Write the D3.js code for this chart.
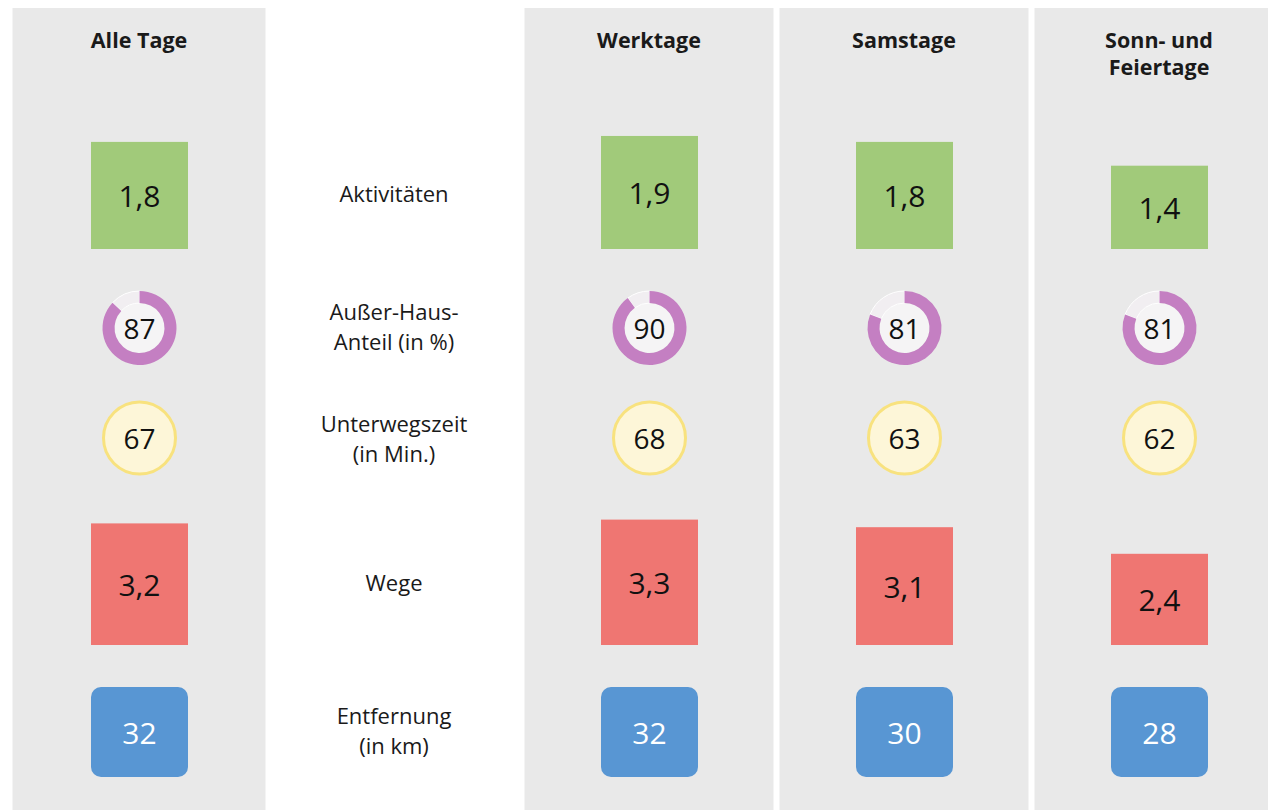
<!DOCTYPE html>
<html>
<head>
<meta charset="utf-8">
<script src="https://cdn.jsdelivr.net/npm/d3@7"></script>
<style>
  body { margin: 0; background: #fff; }
  svg { display: block; font-family: "Open Sans", "Noto Sans", sans-serif; }
</style>
</head>
<body>
<svg id="chart" width="1268" height="810"></svg>
<script>
// columns: the empty slot in the middle holds the row labels
var columns = ['Alle Tage', 'labels', 'Werktage', 'Samstage', 'Sonn- und Feiertage'];
var headers = [['Alle Tage'], null, ['Werktage'], ['Samstage'], ['Sonn- und', 'Feiertage']];
var rowLabels = [
  ['Aktivitäten'],
  ['Außer-Haus-', 'Anteil (in %)'],
  ['Unterwegszeit', '(in Min.)'],
  ['Wege'],
  ['Entfernung', '(in km)']
];
var aktivitaeten = [1.8, null, 1.9, 1.8, 1.4];
var ausserHaus = [87, null, 90, 81, 81];
var unterwegszeit = [67, null, 68, 63, 62];
var wege = [3.2, null, 3.3, 3.1, 2.4];
var entfernung = [32, null, 32, 30, 28];

var svg = d3.select('#chart');
var fmt = function(v) { return String(v).replace('.', ','); };

var x = d3.scalePoint().domain(columns).range([139, 1159]);
var panelW = 249;

var greenH = d3.scaleLinear().domain([0, 1]).range([0, 59.5]);
var redH = d3.scaleLinear().domain([0, 1]).range([0, 38]);
var boxW = 97;

var dataCols = columns.filter(function(c) { return c !== 'labels'; });
var idx = function(c) { return columns.indexOf(c); };

// grey panels
svg.selectAll('rect.panel')
  .data(dataCols)
  .enter().append('rect')
  .attr('class', 'panel')
  .attr('x', function(d) { return x(d) - panelW / 2 - (d === 'Alle Tage' ? 2 : 0); })
  .attr('y', 8)
  .attr('width', function(d) { return d === 'Sonn- und Feiertage' ? panelW + 20 : panelW + (d === 'Alle Tage' ? 4 : 0); })
  .attr('height', 810)
  .attr('fill', '#e9e9e9');

// headers
dataCols.forEach(function(c) {
  var lines = headers[idx(c)];
  var t = svg.append('text')
    .attr('x', x(c))
    .attr('y', 48)
    .attr('text-anchor', 'middle')
    .attr('font-weight', 'bold')
    .attr('font-size', 21.5)
    .attr('fill', '#1a1a1a');
  lines.forEach(function(l, i) {
    t.append('tspan').attr('x', x(c)).attr('dy', i === 0 ? 0 : 27).text(l);
  });
});

// row labels in the middle column
var labelY = [196, 329, 441, 585, 733];
rowLabels.forEach(function(lines, r) {
  var t = svg.append('text')
    .attr('x', x('labels'))
    .attr('y', labelY[r])
    .attr('text-anchor', 'middle')
    .attr('dominant-baseline', 'middle')
    .attr('font-size', 22)
    .attr('fill', '#1a1a1a');
  lines.forEach(function(l, i) {
    t.append('tspan')
      .attr('x', x('labels'))
      .attr('dy', i === 0 ? (lines.length > 1 ? -15 : 0) : 30)
      .text(l);
  });
});

var valueFont = 30;

// Aktivitäten: green bars, bottom at 249
var greenBase = 249;
dataCols.forEach(function(c) {
  var v = aktivitaeten[idx(c)];
  var h = greenH(v);
  svg.append('rect')
    .attr('x', x(c) - boxW / 2 + 0.5)
    .attr('y', greenBase - h)
    .attr('width', boxW)
    .attr('height', h)
    .attr('fill', '#a1ca7a');
  svg.append('text')
    .attr('x', x(c) + 0.5)
    .attr('y', greenBase - h / 2)
    .attr('text-anchor', 'middle')
    .attr('dominant-baseline', 'central')
    .attr('font-size', valueFont)
    .attr('fill', '#111')
    .text(fmt(v));
});

// Außer-Haus-Anteil: donut rings
var ringY = 328;
var arc = d3.arc().innerRadius(25).outerRadius(37);
var pct = d3.scaleLinear().domain([0, 100]).range([0, 2 * Math.PI]);
dataCols.forEach(function(c) {
  var v = ausserHaus[idx(c)];
  var g = svg.append('g').attr('transform', 'translate(' + (x(c) + 0.5) + ',' + ringY + ')');
  g.append('circle').attr('r', 25).attr('fill', '#f5f4f5');
  g.append('path')
    .attr('d', arc({ startAngle: pct(v), endAngle: 2 * Math.PI }))
    .attr('fill', '#f1eef1')
    .attr('stroke', '#fff')
    .attr('stroke-width', 1);
  g.append('path')
    .attr('d', arc({ startAngle: 0, endAngle: pct(v) }))
    .attr('fill', '#c47fc2');
  g.append('text')
    .attr('text-anchor', 'middle')
    .attr('dominant-baseline', 'central')
    .attr('font-size', valueFont - 2)
    .attr('fill', '#111')
    .text(v);
});

// Unterwegszeit: yellow circles
var circY = 438;
dataCols.forEach(function(c) {
  var v = unterwegszeit[idx(c)];
  var g = svg.append('g').attr('transform', 'translate(' + (x(c) + 0.5) + ',' + circY + ')');
  g.append('circle').attr('r', 36).attr('fill', '#fdf6d8')
    .attr('stroke', '#f8e27e').attr('stroke-width', 3);
  g.append('text')
    .attr('text-anchor', 'middle')
    .attr('dominant-baseline', 'central')
    .attr('font-size', valueFont - 2)
    .attr('fill', '#111')
    .text(v);
});

// Wege: red bars, bottom at 645
var redBase = 645;
dataCols.forEach(function(c) {
  var v = wege[idx(c)];
  var h = redH(v);
  svg.append('rect')
    .attr('x', x(c) - boxW / 2 + 0.5)
    .attr('y', redBase - h)
    .attr('width', boxW)
    .attr('height', h)
    .attr('fill', '#ef7672');
  svg.append('text')
    .attr('x', x(c) + 0.5)
    .attr('y', redBase - h / 2)
    .attr('text-anchor', 'middle')
    .attr('dominant-baseline', 'central')
    .attr('font-size', valueFont)
    .attr('fill', '#111')
    .text(fmt(v));
});

// Entfernung: blue rounded boxes
dataCols.forEach(function(c) {
  var v = entfernung[idx(c)];
  svg.append('rect')
    .attr('x', x(c) - boxW / 2 + 0.5)
    .attr('y', 687)
    .attr('width', boxW)
    .attr('height', 90)
    .attr('rx', 10)
    .attr('fill', '#5896d3');
  svg.append('text')
    .attr('x', x(c) + 0.5)
    .attr('y', 732)
    .attr('text-anchor', 'middle')
    .attr('dominant-baseline', 'central')
    .attr('font-size', valueFont)
    .attr('fill', '#fff')
    .text(v);
});
</script>
</body>
</html>
